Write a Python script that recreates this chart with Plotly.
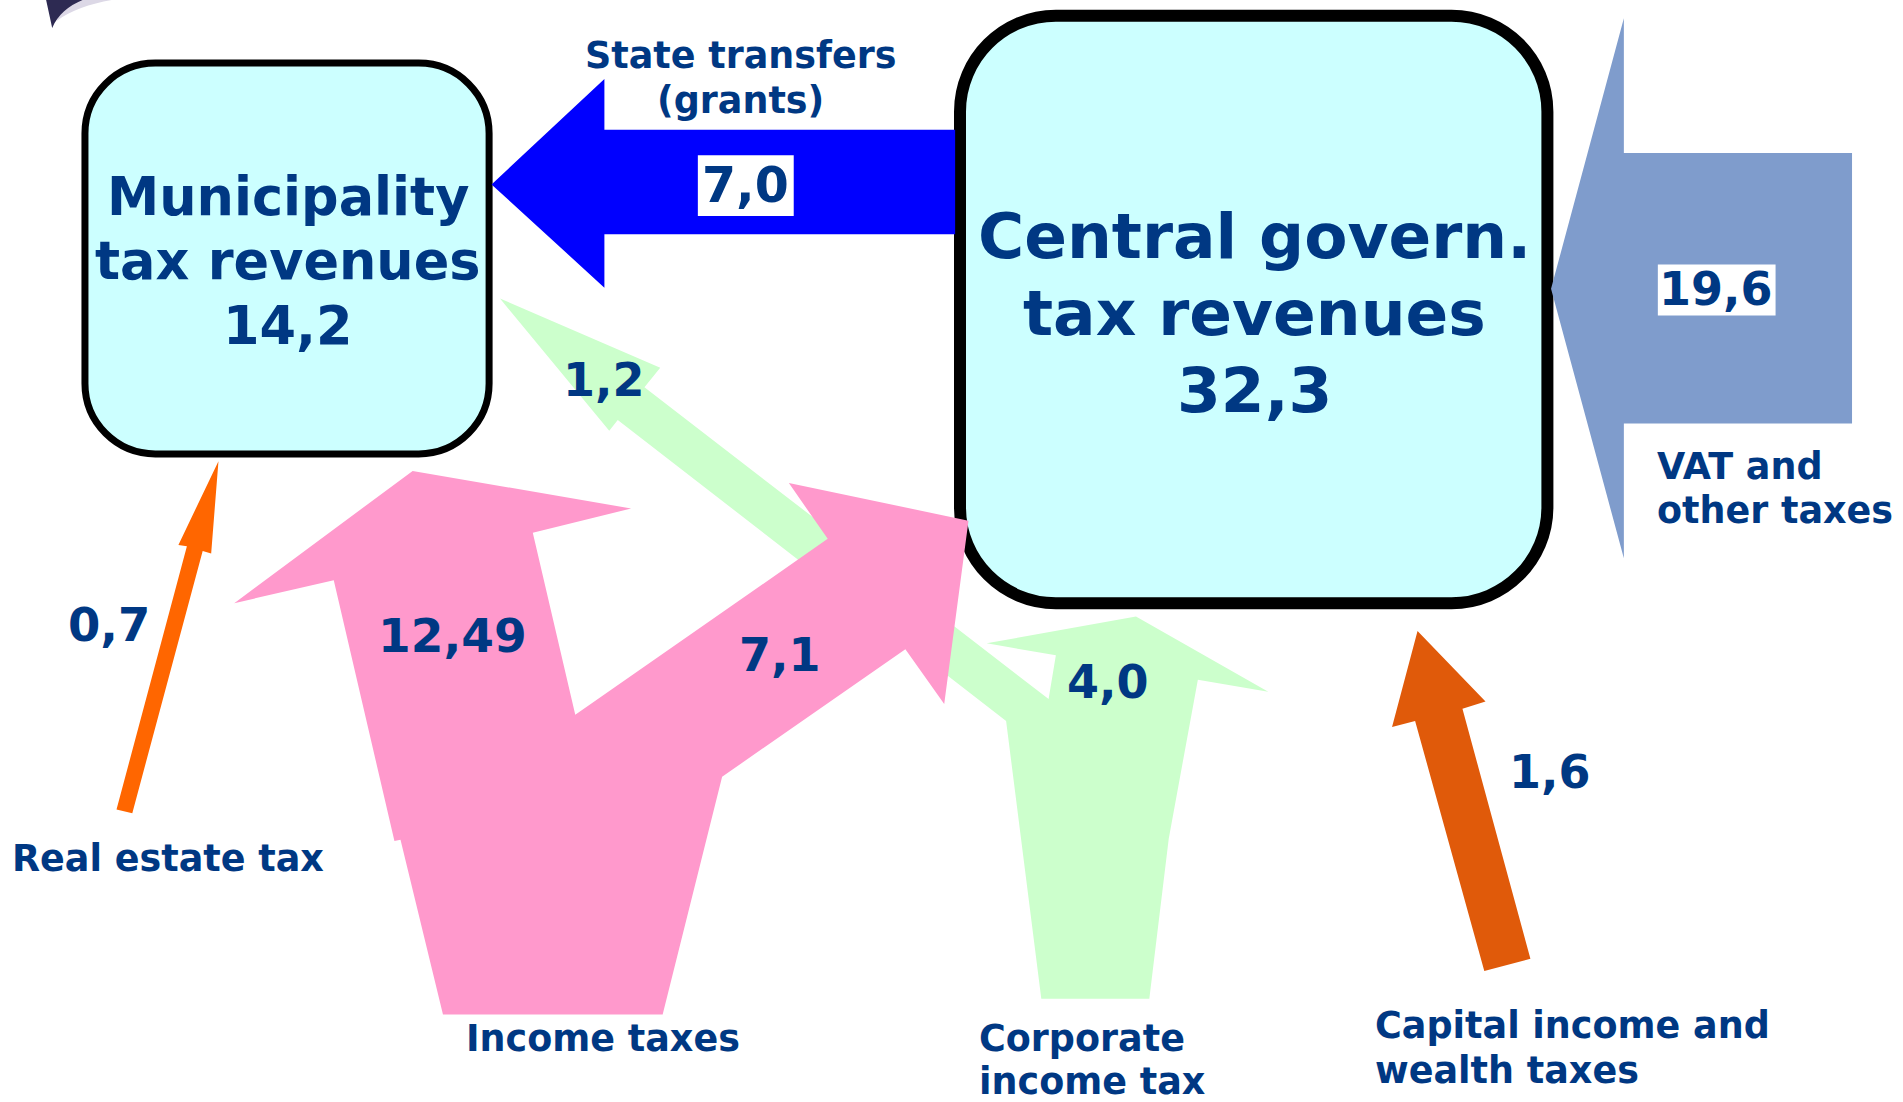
import plotly.graph_objects as go

# ---------------- data ----------------
node_titles = [["Municipality", "tax revenues"], ["Central govern.", "tax revenues"]]
node_totals = ["14,2", "32,3"]

flow_names = ["State transfers (grants)", "VAT and other taxes", "Real estate tax",
              "Income taxes (municipal)", "Income taxes (state)", "Corporate income tax (municipal)",
              "Corporate income tax (state)", "Capital income and wealth taxes"]
flow_values = ["7,0", "19,6", "0,7", "12,49", "7,1", "1,2", "4,0", "1,6"]

source_labels = [["State transfers", "(grants)"], ["VAT and", "other taxes"], ["Real estate tax"],
                 ["Income taxes"], ["Corporate", "income tax"], ["Capital income and", "wealth taxes"]]

# ---------------- layout geometry (diagram space 1568 x 908) ----------------
XR, YR = 1568, 908
NAVY = "#003883"

box_geom = [dict(x0=70, y0=52, x1=403, y1=374, r=58, lw=7),
            dict(x0=791, y0=13, x1=1275, y1=497, r=79, lw=12)]
node_text_pos = [dict(x=237, ys=[162, 215, 268], size=52.5), dict(x=1034, ys=[195, 258, 322], size=63)]

arrow_geom = {
    "blue": dict(color="#0000FF", pts=[(787, 107), (498, 107), (498, 65), (405, 152), (498, 237),
                                       (498, 193), (787, 193)]),
    "vat": dict(color="#7F9CCC", pts=[(1526, 126), (1338, 126), (1338, 15), (1278, 238), (1338, 460),
                                      (1338, 349), (1526, 349)]),
    "green": dict(color="#CCFFCC", pts=[(412, 246), (544, 303), (531, 319), (864, 576), (870, 540),
                                        (813, 530), (936, 508), (1045, 570), (987, 560), (963, 691),
                                        (947, 823), (858, 823), (829, 594), (509, 346), (502, 355)]),
    "orange1": dict(color="#FF6600", pts=[(180, 380), (174, 456), (167, 454), (109, 670), (96, 667),
                                          (154, 450), (147, 449)]),
    "orange2": dict(color="#E05A0A", pts=[(1168, 520), (1224, 578), (1205, 584), (1261, 790), (1223, 800),
                                          (1166, 594), (1147, 599)]),
    "pink": dict(color="#FF99CC", pts=[(340, 388), (520, 419), (439, 439), (474, 589), (682, 444),
                                       (650, 398), (798, 429), (778, 580), (746, 535), (595, 640),
                                       (546, 836), (365, 836), (330, 692), (325, 693), (275, 478),
                                       (193, 497)]),
}

value_pos = [dict(x=614, y=153, size=49, box=(575, 128, 654, 178)),
             dict(x=1414, y=238, size=46, box=(1366, 218, 1463, 260)),
             dict(x=90, y=515, size=46.5), dict(x=373, y=524, size=47), dict(x=643, y=540, size=46),
             dict(x=498, y=313, size=46), dict(x=913, y=562, size=46), dict(x=1277, y=636, size=46)]

label_pos = [dict(x=610, ys=[46, 83], anchor="center"), dict(x=1364, ys=[384, 421], anchor="left"),
             dict(x=8, ys=[707], anchor="left"), dict(x=497, ys=[856], anchor="center"),
             dict(x=805, ys=[856, 891], anchor="left"), dict(x=1131, ys=[845, 882], anchor="left")]


def poly(pts):
    return "M " + " L ".join(f"{x},{y}" for x, y in pts) + " Z"


def rrect(x0, y0, x1, y1, r):
    k = 0.5523 * r
    return (f"M {x0+r},{y0} L {x1-r},{y0} C {x1-r+k},{y0} {x1},{y0+r-k} {x1},{y0+r} "
            f"L {x1},{y1-r} C {x1},{y1-r+k} {x1-r+k},{y1} {x1-r},{y1} "
            f"L {x0+r},{y1} C {x0+r-k},{y1} {x0},{y1-r+k} {x0},{y1-r} "
            f"L {x0},{y0+r} C {x0},{y0+r-k} {x0+r-k},{y0} {x0+r},{y0} Z")


shapes = []
# top-left decoration (faded wedge)
shapes.append(dict(type="path", xref="x", yref="y", path="M 50,0 L 92,0 C 74,3 58,9 47,17 Z",
                   fillcolor="#dcd8e6", line=dict(width=0)))
shapes.append(dict(type="path", xref="x", yref="y", path="M 38,0 L 68,0 C 56,5 48,12 43,23 Z",
                   fillcolor="#2d2a52", line=dict(width=0)))
for b in box_geom:
    shapes.append(dict(type="path", xref="x", yref="y", path=rrect(b["x0"], b["y0"], b["x1"], b["y1"], b["r"]),
                       fillcolor="#CCFFFF", line=dict(color="black", width=b["lw"])))
for key in ["blue", "vat", "green", "orange1", "orange2", "pink"]:
    a = arrow_geom[key]
    shapes.append(dict(type="path", xref="x", yref="y", path=poly(a["pts"]),
                       fillcolor=a["color"], line=dict(width=0)))
for v in value_pos:
    if "box" in v:
        x0, y0, x1, y1 = v["box"]
        shapes.append(dict(type="rect", xref="x", yref="y", x0=x0, y0=y0, x1=x1, y1=y1,
                           fillcolor="white", line=dict(width=0)))

annotations = []
FONT = "DejaVu Sans"
for title, total, pos in zip(node_titles, node_totals, node_text_pos):
    for line, y in zip(title + [total], pos["ys"]):
        annotations.append(dict(x=pos["x"], y=y, xref="x", yref="y", text=line, showarrow=False,
                                xanchor="center", yanchor="middle",
                                font=dict(family=FONT, size=pos["size"], color=NAVY, weight="bold")))
for val, pos in zip(flow_values, value_pos):
    annotations.append(dict(x=pos["x"], y=pos["y"], xref="x", yref="y", text=val, showarrow=False,
                            xanchor="center", yanchor="middle",
                            font=dict(family=FONT, size=pos["size"], color=NAVY, weight="bold")))
for lab, pos in zip(source_labels, label_pos):
    for line, y in zip(lab, pos["ys"]):
        annotations.append(dict(x=pos["x"], y=y, xref="x", yref="y", text=line, showarrow=False,
                                xanchor=pos["anchor"], yanchor="middle",
                                font=dict(family=FONT, size=36.5, color=NAVY, weight="bold")))

fig = go.Figure()
fig.add_trace(go.Scatter(x=[0, XR], y=[0, YR], mode="markers", marker=dict(opacity=0),
                         hoverinfo="skip", showlegend=False))
fig.update_layout(width=1903, height=1102, margin=dict(l=0, r=0, t=0, b=0),
                  paper_bgcolor="white", plot_bgcolor="white", shapes=shapes, annotations=annotations,
                  xaxis=dict(range=[0, XR], visible=False, fixedrange=True),
                  yaxis=dict(range=[YR, 0], visible=False, fixedrange=True),
                  showlegend=False)
fig.write_html("out.html", config={"displayModeBar": False},
               post_script="document.body.style.margin='0px';document.body.style.overflow='hidden';")
